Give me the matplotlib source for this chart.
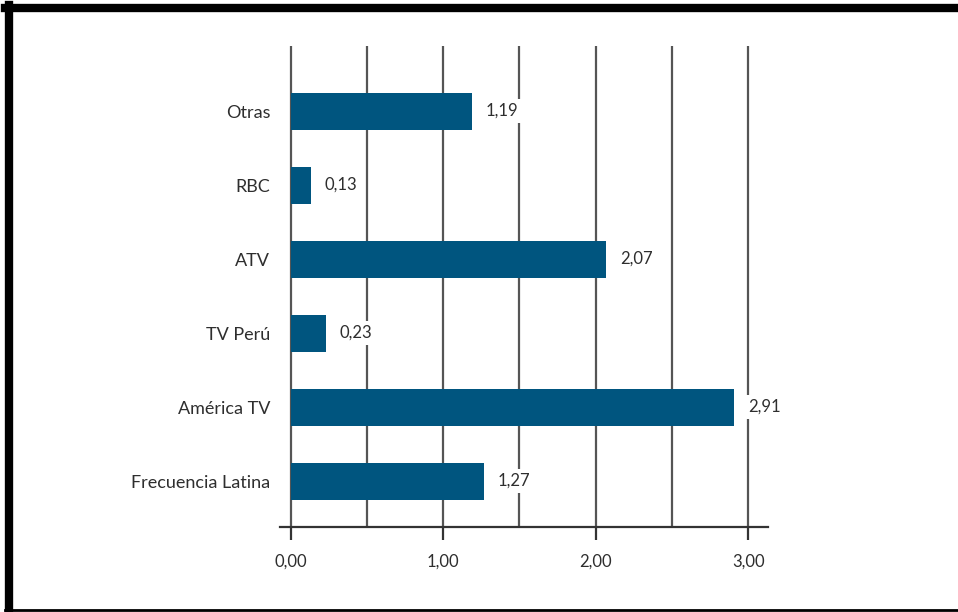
import matplotlib
matplotlib.use("Agg")
import matplotlib.pyplot as plt
from matplotlib.lines import Line2D
import numpy as np

# data (bottom to top)
canales = ["Frecuencia Latina", "América TV", "TV Perú", "ATV", "RBC", "Otras"]
valores = [1.27, 2.91, 0.23, 2.07, 0.13, 1.19]
x_ticks = [0, 1, 2, 3]
x_tick_labels = ["0,00", "1,00", "2,00", "3,00"]

bar_color = "#00557f"
text_color = "#2e2e2e"
plt.rcParams["font.family"] = ["Lato", "DejaVu Sans"]

fig = plt.figure(figsize=(9.58, 6.12), dpi=100)
ax = fig.add_axes([280 / 958, 85 / 612, 488 / 958, 481 / 612])

y = np.arange(len(canales))
ax.barh(y, valores, height=0.5, color=bar_color, zorder=3)

# vertical grid lines every 0.5
for gx in np.arange(0, 3.01, 0.5):
    ax.axvline(gx, color="#555555", lw=1.6, zorder=1)

for yi, v in zip(y, valores):
    ax.text(v + 0.09, yi, f"{v:.2f}".replace(".", ","), va="center", ha="left",
            fontsize=12, color=text_color, zorder=4,
            bbox=dict(facecolor="white", edgecolor="none", pad=3))

ax.set_xlim(-0.07, 3.13)
ax.set_ylim(-0.62, 5.88)
ax.set_yticks(y)
ax.set_yticklabels(canales, fontsize=13, color=text_color)
ax.tick_params(axis="y", length=0, pad=7)
ax.set_xticks(x_ticks)
ax.set_xticklabels(x_tick_labels, fontsize=12, color=text_color)
ax.tick_params(axis="x", length=9.5, width=1.6, color="#333333", pad=10)

for s in ["top", "right", "left"]:
    ax.spines[s].set_visible(False)
ax.spines["bottom"].set_color("#333333")
ax.spines["bottom"].set_linewidth(1.6)

# frame around the picture (top, left, thin bottom)
fig.add_artist(Line2D([5 / 958, 1], [1 - 8 / 612, 1 - 8 / 612], color="black", lw=6,
                      transform=fig.transFigure))
fig.add_artist(Line2D([9 / 958, 9 / 958], [1 - 5 / 612, 2 / 612], color="black", lw=6,
                      transform=fig.transFigure))
fig.add_artist(Line2D([5 / 958, 1], [2 / 612, 2 / 612], color="black", lw=2,
                      transform=fig.transFigure))

fig.savefig("out.png", dpi=100)
